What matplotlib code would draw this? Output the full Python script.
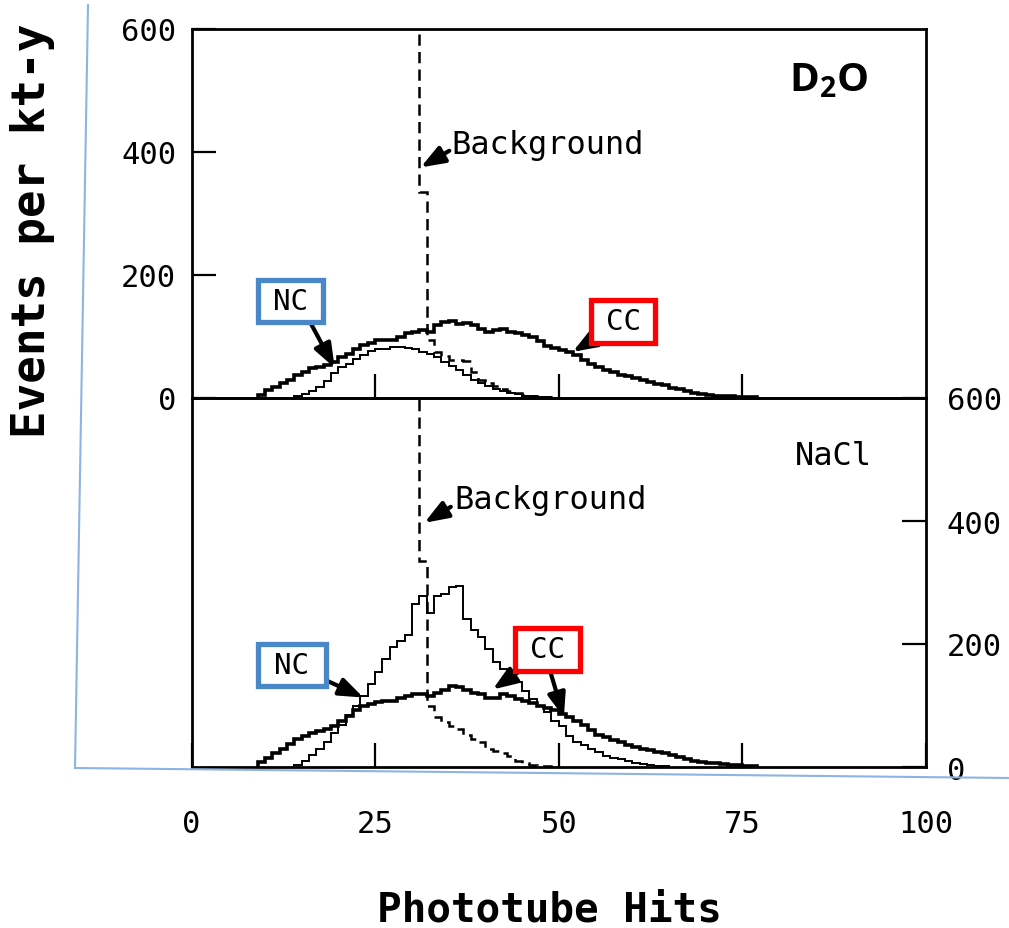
import matplotlib
matplotlib.use('Agg')
import matplotlib.pyplot as plt
import numpy as np
from matplotlib.lines import Line2D
from matplotlib.patches import Rectangle

plt.rcParams['font.family'] = ['DejaVu Sans Mono', 'DejaVu Sans']
plt.rcParams['mathtext.fontset'] = 'custom'
plt.rcParams['mathtext.bf'] = 'Open Sans:bold'
plt.rcParams['mathtext.rm'] = 'Open Sans'

# ---------------- data (events per kt-y per phototube-hit bin) ----------------
x_ticks = [0, 25, 50, 75, 100]
y_ticks = [0, 200, 400, 600]

# D2O panel
cc_d2o_start = 9
cc_d2o = [5, 13, 18, 24, 30, 37, 42, 48, 50, 53, 58, 67, 72, 80, 86, 90, 94, 94, 95,
          100, 106, 108, 110, 108, 118, 124, 126, 120, 122, 118, 112, 108, 110, 113,
          108, 105, 102, 99, 92, 85, 82, 78, 75, 70, 62, 56, 50, 46, 42, 38, 35, 32,
          29, 26, 23, 21, 17, 14, 12, 8, 6, 5, 4, 4, 3, 2, 1, 1]
nc_d2o_start = 14
nc_d2o = [3, 6, 12, 18, 28, 40, 50, 56, 64, 70, 76, 79, 80, 83, 83, 82, 80, 75, 72,
          66, 58, 52, 46, 38, 30, 25, 19, 15, 11, 8, 6, 4, 3, 2, 1]
bg_d2o_start = 30
bg_d2o = [900, 335, 95, 75, 68, 62, 62, 60, 42, 30, 25, 20, 15, 11, 8, 5, 3, 2, 1, 0]

# NaCl panel
cc_nacl_start = 9
cc_nacl = [8, 15, 22, 30, 38, 45, 50, 55, 58, 62, 66, 75, 83, 92, 99, 103, 105, 107,
           108, 112, 115, 118, 118, 115, 120, 125, 131, 130, 126, 120, 118, 113, 112,
           118, 115, 110, 108, 104, 100, 96, 92, 86, 82, 75, 68, 60, 52, 48, 44, 40,
           36, 33, 30, 27, 25, 22, 19, 16, 13, 10, 8, 7, 6, 5, 4, 3, 2, 1]
nc_nacl_start = 14
nc_nacl = [3, 10, 20, 30, 40, 55, 68, 85, 100, 115, 135, 155, 175, 195, 205, 215, 265,
           278, 250, 278, 282, 292, 295, 240, 222, 212, 192, 170, 160, 148, 138, 124,
           110, 100, 89, 75, 66, 50, 40, 35, 29, 24, 18, 15, 13, 10, 7, 5, 3, 2, 1]
bg_nacl_start = 30
bg_nacl = [900, 335, 100, 82, 73, 66, 62, 52, 45, 40, 29, 26, 22, 18, 10, 6, 4, 2, 1, 0]


def edges(start, vals):
    return np.arange(start, start + len(vals) + 1)


W, H = 1009, 929
fig = plt.figure(figsize=(W / 100, H / 100), dpi=100)
fig.patch.set_facecolor('white')


def fx(px):
    return px / W


def fy(py):
    return 1 - py / H


L, R = 191.5, 926
ax_top = fig.add_axes([fx(L), fy(399), fx(R) - fx(L), (399 - 30) / H])
ax_bot = fig.add_axes([fx(L), fy(768), fx(R) - fx(L), (768 - 399) / H])

for ax in (ax_top, ax_bot):
    ax.set_xlim(0, 100)
    ax.set_ylim(0, 600)
    for s in ax.spines.values():
        s.set_linewidth(2.0)
    ax.patch.set_alpha(0)

THICK, THIN, DASH = 2.6, 1.4, 1.8
dash_style = (0, (4.5, 2.5))
TICKFS = 22

# top panel
ax_top.stairs(cc_d2o, edges(cc_d2o_start, cc_d2o), color='black', lw=THICK)
ax_top.stairs(nc_d2o, edges(nc_d2o_start, nc_d2o), color='black', lw=THIN)
ax_top.stairs(bg_d2o, edges(bg_d2o_start, bg_d2o), baseline=None, color='black',
              lw=DASH, linestyle=dash_style)
ax_top.set_xticks([25, 50, 75])
ax_top.set_yticks(y_ticks)
ax_top.tick_params(axis='x', direction='in', length=17, width=1.6, labelbottom=False)
ax_top.tick_params(axis='y', direction='in', length=17, width=1.6, labelsize=TICKFS, pad=11)

# bottom panel
ax_bot.stairs(cc_nacl, edges(cc_nacl_start, cc_nacl), color='black', lw=THICK)
ax_bot.stairs(nc_nacl, edges(nc_nacl_start, nc_nacl), color='black', lw=THIN)
ax_bot.stairs(bg_nacl, edges(bg_nacl_start, bg_nacl), baseline=None, color='black',
              lw=DASH, linestyle=dash_style)
ax_bot.set_xticks(x_ticks)
ax_bot.set_xticklabels([str(v) for v in x_ticks])
ax_bot.yaxis.tick_right()
ax_bot.set_yticks(y_ticks)
ax_bot.tick_params(axis='x', direction='in', length=17, width=1.6, labelsize=TICKFS, pad=30)
ax_bot.tick_params(axis='y', direction='in', length=17, width=1.6, labelsize=TICKFS, pad=15)

arrow_kw = dict(arrowstyle='-|>,head_length=1.2,head_width=0.45', lw=3.0, color='black',
                shrinkA=0, shrinkB=0, mutation_scale=12)

# ---- annotations, top panel ----
ax_top.text(35.4, 413, 'Background', fontsize=23, ha='left', va='center')
ax_top.annotate('', xy=(31.2, 375), xytext=(35.1, 402), arrowprops=arrow_kw)
ax_top.annotate('', xy=(19.5, 49), xytext=(16.3, 120), arrowprops=arrow_kw)
ax_top.annotate('', xy=(51.9, 75), xytext=(55.4, 100), arrowprops=arrow_kw)


def label_box(ax, x0, y0, x1, y1, text, ec):
    ax.add_patch(Rectangle((fx(x0), fy(y1)), fx(x1) - fx(x0), (y1 - y0) / H,
                           transform=fig.transFigure, fc='white', ec=ec, lw=3.8,
                           zorder=5, clip_on=False))
    ax.text(fx((x0 + x1) / 2), fy((y0 + y1) / 2), text, transform=fig.transFigure,
            fontsize=21, ha='center', va='center', zorder=6)


BLUE, RED = '#4a87c9', '#ff0000'
label_box(ax_top, 258, 281, 323, 323, 'NC', BLUE)
label_box(ax_top, 591, 301, 655, 344, 'CC', RED)

# D2O label
ax_top.add_patch(Rectangle((fx(770), fy(117)), fx(888) - fx(770), (117 - 40) / H,
                           transform=fig.transFigure, fc='white', ec='none', zorder=5))
ax_top.text(fx(829), fy(80), r'$\mathbf{D_2O}$', transform=fig.transFigure,
            fontsize=29, ha='center', va='center', zorder=6)

# ---- annotations, bottom panel ----
ax_bot.text(82.2, 506, 'NaCl', fontsize=23, ha='left', va='center')
ax_bot.text(35.8, 435, 'Background', fontsize=23, ha='left', va='center')
ax_bot.annotate('', xy=(31.7, 397), xytext=(35.3, 423), arrowprops=arrow_kw)
ax_bot.annotate('', xy=(23.4, 113), xytext=(17.4, 146), arrowprops=arrow_kw)
ax_bot.annotate('', xy=(41.0, 126), xytext=(46.2, 168), arrowprops=arrow_kw)
ax_bot.annotate('', xy=(50.7, 81), xytext=(48.8, 157), arrowprops=arrow_kw)
label_box(ax_bot, 258, 645, 326, 687, 'NC', BLUE)
label_box(ax_bot, 515, 629, 580, 672, 'CC', RED)

# axis titles
fig.text(fx(33), fy(231), 'Events per kt-y', rotation=90, ha='center', va='center',
         fontsize=33, fontweight='bold')
fig.text(fx(549), fy(922), 'Phototube Hits', ha='center', va='baseline',
         fontsize=29.5, fontweight='bold')

# light-blue crop marks of the source figure
blue_line = '#8db4e2'
fig.add_artist(Line2D([fx(88), fx(75)], [fy(6), fy(769)], color=blue_line, lw=1.5,
                      transform=fig.transFigure))
fig.add_artist(Line2D([fx(75), fx(1009)], [fy(769), fy(779)], color=blue_line, lw=1.5,
                      transform=fig.transFigure))

fig.savefig('out.png', dpi=100, facecolor='white')
